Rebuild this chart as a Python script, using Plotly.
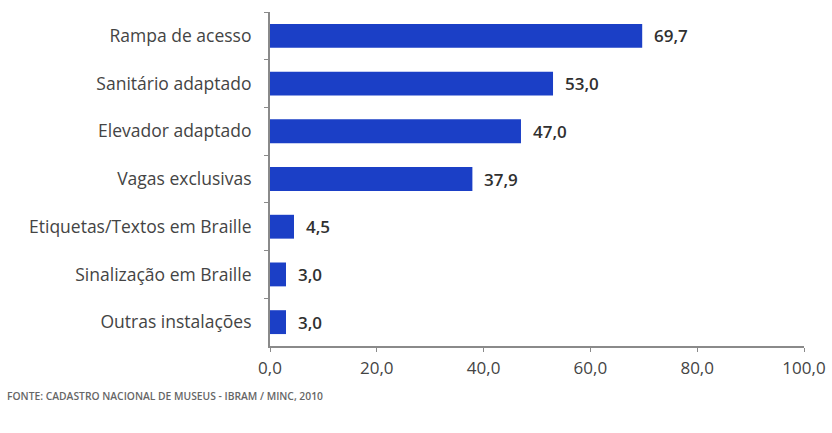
import plotly.graph_objects as go

# Acessibilidade nos museus brasileiros (%)
categorias = [
    "Rampa de acesso",
    "Sanitário adaptado",
    "Elevador adaptado",
    "Vagas exclusivas",
    "Etiquetas/Textos em Braille",
    "Sinalização em Braille",
    "Outras instalações",
]
valores = [69.7, 53.0, 47.0, 37.9, 4.5, 3.0, 3.0]
ticks_x = [0, 20, 40, 60, 80, 100]
fonte = "FONTE: CADASTRO NACIONAL DE MUSEUS - IBRAM / MINC, 2010"

azul = "#1b3fc6"
cinza_texto = "#444444"
cinza_eixo = "#8a8a8a"
fam = "Open Sans, Noto Sans, sans-serif"

W, H = 832, 433
ML, MR, MT, MB = 270, 28, 12, 87

fig = go.Figure()
fig.add_trace(go.Bar(
    x=valores,
    y=categorias,
    orientation="h",
    width=0.5,
    marker=dict(color=azul, line=dict(width=0)),
    hoverinfo="skip",
))

# rótulos de valor à direita de cada barra
for c, v in zip(categorias, valores):
    fig.add_annotation(
        x=v, y=c, xref="x", yref="y",
        text=f"{v:.1f}".replace(".", ","),
        showarrow=False, xanchor="left", xshift=10,
        font=dict(family=fam, size=17, color="#303030", weight=600),
    )

# rodapé com a fonte dos dados (posição em pixels convertida para papel)
fig.add_annotation(
    x=(5 - ML) / (W - ML - MR), y=(H - MB - 396) / (H - MT - MB),
    xref="paper", yref="paper",
    text=fonte, showarrow=False, xanchor="left", yanchor="middle",
    font=dict(family=fam, size=10.3, color="#666666", weight=600),
)

fig.update_layout(
    width=W, height=H,
    margin=dict(l=ML, r=MR, t=MT, b=MB),
    paper_bgcolor="white", plot_bgcolor="white",
    separators=",.",
    showlegend=False,
    xaxis=dict(
        range=[0, 100], tickvals=ticks_x, tickformat=".1f",
        automargin=False,
        showgrid=False, zeroline=False,
        showline=True, linecolor=cinza_eixo, linewidth=2,
        ticks="outside", ticklen=4, tickcolor=cinza_eixo, tickwidth=1,
        ticklabelstandoff=2,
        tickfont=dict(family=fam, size=17, color=cinza_texto),
    ),
    yaxis=dict(
        autorange="reversed",
        automargin=False,
        showgrid=False, zeroline=False,
        showline=True, linecolor=cinza_eixo, linewidth=2,
        ticks="outside", tickson="boundaries", ticklen=4,
        tickcolor=cinza_eixo, tickwidth=1,
        ticklabelstandoff=13,
        tickfont=dict(family=fam, size=17.5, color=cinza_texto),
    ),
)

fig.write_html("out.html")
